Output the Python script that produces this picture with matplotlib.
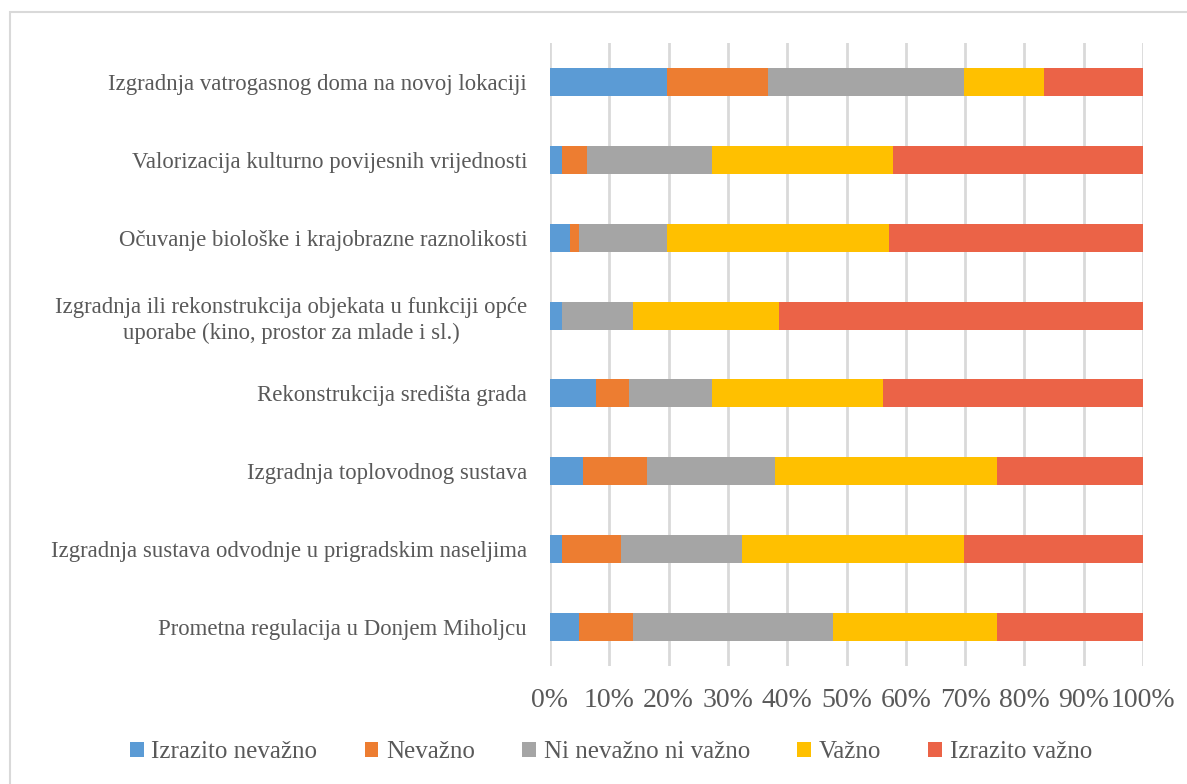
import numpy as np
import matplotlib.pyplot as plt
from matplotlib.patches import Rectangle

plt.rcParams['font.family'] = ['Liberation Serif', 'DejaVu Serif']

categories = [
    "Izgradnja vatrogasnog doma na novoj lokaciji",
    "Valorizacija kulturno povijesnih vrijednosti",
    "Očuvanje biološke i krajobrazne raznolikosti",
    "Izgradnja ili rekonstrukcija objekata u funkciji opće\nuporabe (kino, prostor za mlade i sl.)",
    "Rekonstrukcija središta grada",
    "Izgradnja toplovodnog sustava",
    "Izgradnja sustava odvodnje u prigradskim naseljima",
    "Prometna regulacija u Donjem Miholjcu",
]
series = ["Izrazito nevažno", "Nevažno", "Ni nevažno ni važno", "Važno", "Izrazito važno"]

izrazito_nevazno = [19.7, 2.0, 3.3, 2.0, 7.7, 5.5, 2.0, 4.9]
nevazno = [17.0, 4.2, 1.6, 0.0, 5.7, 10.8, 9.9, 9.1]
ni_ni = [33.1, 21.1, 14.8, 12.0, 13.9, 21.6, 20.4, 33.7]
vazno = [13.5, 30.5, 37.4, 24.6, 28.9, 37.5, 37.5, 27.7]
izrazito_vazno = [16.7, 42.2, 42.9, 61.4, 43.8, 24.6, 30.2, 24.6]

colors = ["#5B9BD5", "#ED7D31", "#A5A5A5", "#FFC000", "#EB6347"]
text_col = "#595959"

data = np.array([izrazito_nevazno, nevazno, ni_ni, vazno, izrazito_vazno])
data = data / data.sum(axis=0)

fig = plt.figure(figsize=(11.87, 7.84), dpi=100)
fig.patches.append(Rectangle((10 / 1187, -0.01), 1.2, 1 - 12 / 784 + 0.01,
                             transform=fig.transFigure, fill=False,
                             edgecolor="#D9D9D9", linewidth=1.5))
ax = fig.add_axes([550 / 1187, 1 - 666 / 784, 593 / 1187, 623 / 784])

y = np.arange(len(categories))
left = np.zeros(len(categories))
for i, name in enumerate(series):
    ax.barh(y, data[i], left=left, height=0.36, color=colors[i], label=name, zorder=3)
    left += data[i]

ax.set_xlim(0, 1)
ax.set_ylim(len(categories) - 0.5, -0.5)
ax.set_xticks(np.linspace(0, 1, 11))
ax.set_xticklabels([f"{v}%" for v in range(0, 101, 10)], fontsize=20, color=text_col)
ax.set_yticks(y)
ax.set_yticklabels(categories, fontsize=16.4, color=text_col,
                   multialignment="center", linespacing=1.3)
ax.tick_params(axis="y", length=0, pad=16.5)
ax.tick_params(axis="x", length=0, pad=16)
ax.grid(axis="x", color="#D9D9D9", linewidth=2, zorder=0)
for s in ax.spines.values():
    s.set_visible(False)

leg = fig.legend(loc="center", bbox_to_anchor=(611 / 1187, 1 - 752 / 784), ncol=5,
                 frameon=False, fontsize=18, handlelength=0.55, handleheight=0.55,
                 handletextpad=0.3, columnspacing=1.9)
for t in leg.get_texts():
    t.set_color(text_col)

fig.savefig("out.png", dpi=100)
